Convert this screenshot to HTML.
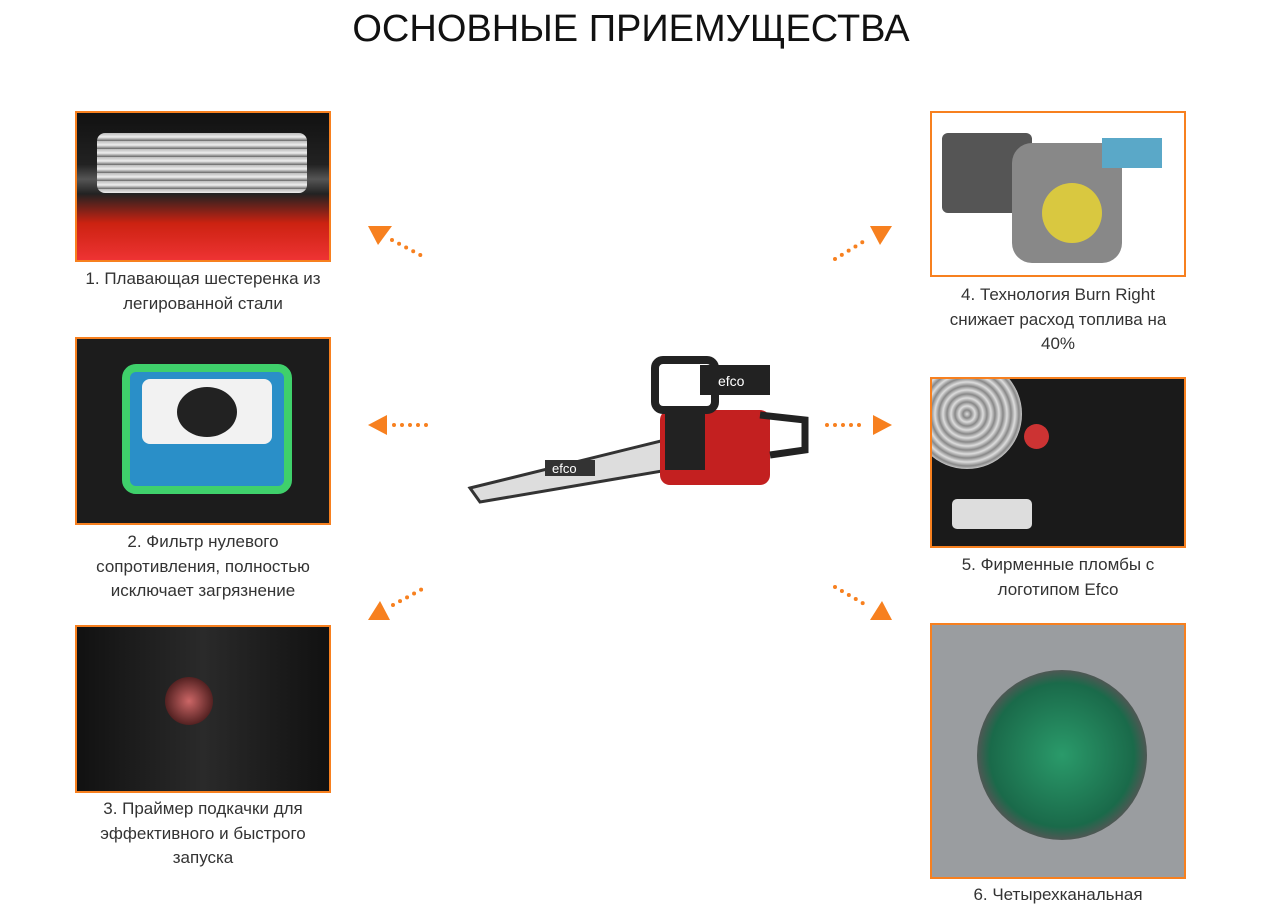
<!DOCTYPE html>
<html><head><meta charset="utf-8"><style>
body{margin:0;width:1262px;height:915px;background:#fff;position:relative;overflow:hidden;font-family:"Liberation Sans",sans-serif;}
h1{position:absolute;left:0;width:1262px;top:8px;margin:0;text-align:center;font-weight:400;font-size:38px;color:#111;}
.b{position:absolute;border:2px solid #f7801f;box-sizing:border-box;overflow:hidden;}
.c{position:absolute;text-align:center;font-size:17px;line-height:24.5px;color:#333;}
</style></head><body>
<h1>ОСНОВНЫЕ ПРИЕМУЩЕСТВА</h1>

<div class="b" style="left:75px;top:111px;width:256px;height:151px;background:linear-gradient(#111 0,#222 35%,#555 45%,#222 55%,#c21 75%,#e33 100%)">
<div style="position:absolute;left:20px;top:20px;width:210px;height:60px;background:repeating-linear-gradient(#bbb 0,#eee 4px,#666 8px);border-radius:8px"></div></div>
<div class="c" style="left:72px;top:267px;width:262px">1. Плавающая шестеренка из легированной стали</div>

<div class="b" style="left:75px;top:337px;width:256px;height:188px;background:#1c1c1c">
<div style="position:absolute;left:45px;top:25px;width:170px;height:130px;background:#2a8fc8;border:8px solid #3fd06b;border-radius:14px;box-sizing:border-box"></div>
<div style="position:absolute;left:65px;top:40px;width:130px;height:65px;background:#f2f2f2;border-radius:8px"></div>
<div style="position:absolute;left:100px;top:48px;width:60px;height:50px;background:#222;border-radius:50%"></div></div>
<div class="c" style="left:72px;top:530px;width:262px">2. Фильтр нулевого сопротивления, полностью исключает загрязнение</div>

<div class="b" style="left:75px;top:625px;width:256px;height:168px;background:linear-gradient(90deg,#111,#2a2a2a 50%,#111)">
<div style="position:absolute;left:88px;top:50px;width:48px;height:48px;background:radial-gradient(#c66,#522 70%,#111);border-radius:50%"></div></div>
<div class="c" style="left:72px;top:797px;width:262px">3. Праймер подкачки для эффективного и быстрого запуска</div>

<div class="b" style="left:930px;top:111px;width:256px;height:166px;background:#fff">
<div style="position:absolute;left:10px;top:20px;width:90px;height:80px;background:#555;border-radius:6px"></div>
<div style="position:absolute;left:80px;top:30px;width:110px;height:120px;background:#888;border-radius:20px"></div>
<div style="position:absolute;left:110px;top:70px;width:60px;height:60px;background:#d9c840;border-radius:50%"></div>
<div style="position:absolute;left:170px;top:25px;width:60px;height:30px;background:#5aa8c8"></div></div>
<div class="c" style="left:935px;top:283px;width:246px">4. Технология Burn Right снижает расход топлива на 40%</div>

<div class="b" style="left:930px;top:377px;width:256px;height:171px;background:#1a1a1a">
<div style="position:absolute;left:-20px;top:-20px;width:110px;height:110px;background:repeating-radial-gradient(#ddd 0,#888 4px,#ddd 8px);border-radius:50%"></div>
<div style="position:absolute;left:92px;top:45px;width:25px;height:25px;background:#c33;border-radius:50%"></div>
<div style="position:absolute;left:20px;top:120px;width:80px;height:30px;background:#ddd;border-radius:5px"></div></div>
<div class="c" style="left:927px;top:553px;width:262px">5. Фирменные пломбы с логотипом Efco</div>

<div class="b" style="left:930px;top:623px;width:256px;height:256px;background:#9a9da0">
<div style="position:absolute;left:45px;top:45px;width:170px;height:170px;background:radial-gradient(#2a9a6a,#1a6a4a 60%,#555 72%,#bbb 80%);border-radius:50%"></div></div>
<div class="c" style="left:927px;top:883px;width:262px">6. Четырехканальная</div>

<svg style="position:absolute;left:0;top:0" width="1262" height="915">
<g fill="#f7801f">
<polygon points="368,226 392,226 378,245"/>
<polygon points="368,425 387,415 387,435"/>
<polygon points="368,620 390,620 380,601"/>
<polygon points="870,226 892,226 880,245"/>
<polygon points="892,425 873,415 873,435"/>
<polygon points="870,620 892,620 882,601"/>
</g>
<g stroke="#f7801f" stroke-width="4" stroke-linecap="round" stroke-dasharray="0 8">
<line x1="392" y1="240" x2="426" y2="258"/>
<line x1="394" y1="425" x2="433" y2="425"/>
<line x1="393" y1="605" x2="426" y2="587"/>
<line x1="835" y1="259" x2="866" y2="240"/>
<line x1="827" y1="425" x2="866" y2="425"/>
<line x1="835" y1="587" x2="866" y2="605"/>
</g>
<g>
<path d="M470 488 L665 440 L668 470 L480 502 Z" fill="#ddd" stroke="#333" stroke-width="3"/>
<rect x="545" y="460" width="50" height="16" fill="#333"/>
<text x="552" y="473" font-size="13" fill="#fff" font-family="Liberation Sans">efco</text>
<rect x="660" y="410" width="110" height="75" rx="10" fill="#c32020"/>
<rect x="655" y="360" width="60" height="50" rx="8" fill="none" stroke="#222" stroke-width="8"/>
<rect x="700" y="365" width="70" height="30" fill="#222"/>
<text x="718" y="386" font-size="14" fill="#fff" font-family="Liberation Sans">efco</text>
<path d="M760 415 L805 420 L805 450 L770 455" fill="none" stroke="#222" stroke-width="7"/>
<rect x="665" y="410" width="40" height="60" fill="#222"/>
</g>
</svg>
</body></html>
